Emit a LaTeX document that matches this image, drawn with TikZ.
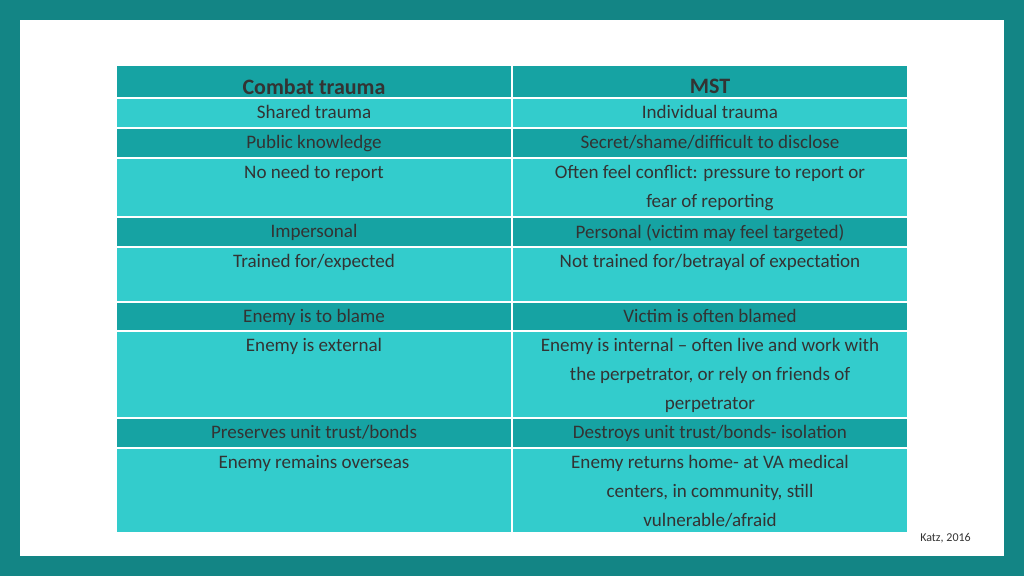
\documentclass[tikz,border=0pt]{standalone}
\usepackage{fontspec}
\setmainfont{Carlito}
\definecolor{frame}{HTML}{138585}
\definecolor{dk}{HTML}{16A3A3}
\definecolor{lt}{HTML}{33CCCC}
\definecolor{txt}{HTML}{333333}
\begin{document}
\begin{tikzpicture}[x=0.75pt,y=-0.75pt,
 cell/.style={draw=white,line width=1.2pt,anchor=north west,inner sep=0pt,outer sep=0pt},
 dkc/.style={cell,fill=dk},
 ltc/.style={cell,fill=lt},
 t/.style={anchor=north,text=txt,font=\fontsize{14.3}{21.75}\selectfont,align=center,inner sep=0pt,yshift=-5.5pt},
 hd/.style={t,font=\fontsize{16.5}{20}\selectfont\bfseries,yshift=-4.5pt}]
\fill[frame] (0,0) rectangle (1024,576);
\fill[white] (20,20) rectangle (1004,556);
\useasboundingbox (0,0) rectangle (1024,576);
% rows: top, height, style
\foreach \y/\h/\s/\n in {65/33/dkc/0,98/30/ltc/1,128/30/dkc/2,158/59/ltc/3,217/30/dkc/4,247/55/ltc/5,302/29/dkc/6,331/87/ltc/7,418/30/dkc/8,448/85/ltc/9}{
 \node[\s,minimum width=396*0.75pt,minimum height=\h*0.75pt] (a\n) at (116,\y) {};
 \node[\s,minimum width=396*0.75pt,minimum height=\h*0.75pt] (b\n) at (512,\y) {};
}
\node[hd] (ha) at (a0.north) {Combat trauma};
\node[hd] (hb) at (b0.north) {MST};
\node[t] (a1t) at (a1.north) {Shared trauma};
\node[t] (b1t) at (b1.north) {Individual trauma};
\node[t] (a2t) at (a2.north) {Public knowledge};
\node[t] (b2t) at (b2.north) {Secret/shame/difficult to disclose};
\node[t] (a3t) at (a3.north) {No need to report};
\node[t] (b3t) at (b3.north) {Often feel conflict: pressure to report or\\fear of reporting};
\node[t] (a4t) at (a4.north) {Impersonal};
\node[t] (b4t) at (b4.north) {Personal (victim may feel targeted)};
\node[t] (a5t) at (a5.north) {Trained for/expected};
\node[t] (b5t) at (b5.north) {Not trained for/betrayal of expectation};
\node[t] (a6t) at (a6.north) {Enemy is to blame};
\node[t] (b6t) at (b6.north) {Victim is often blamed};
\node[t] (a7t) at (a7.north) {Enemy is external};
\node[t] (b7t) at (b7.north) {Enemy is internal -- often live and work with\\the perpetrator, or rely on friends of\\perpetrator};
\node[t] (a8t) at (a8.north) {Preserves unit trust/bonds};
\node[t] (b8t) at (b8.north) {Destroys unit trust/bonds- isolation};
\node[t] (a9t) at (a9.north) {Enemy remains overseas};
\node[t] (b9t) at (b9.north) {Enemy returns home- at VA medical\\centers, in community, still\\vulnerable/afraid};
\node[anchor=east,text=txt,font=\fontsize{9}{10}\selectfont,inner sep=0pt] (cite) at (971,538) {Katz, 2016};
\end{tikzpicture}
\end{document}
